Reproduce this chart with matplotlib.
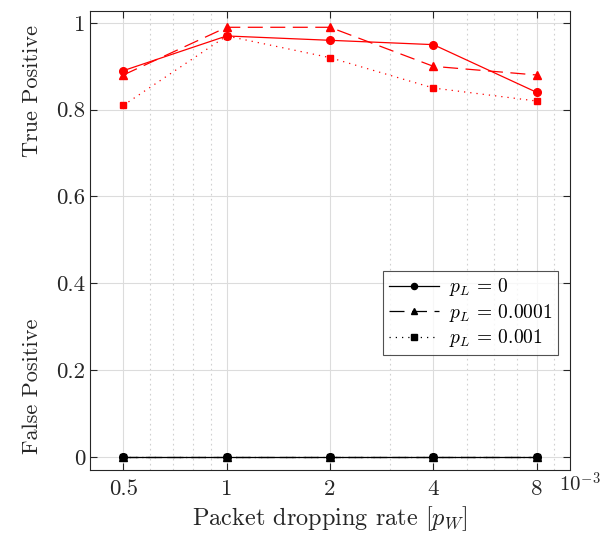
import numpy as np
import matplotlib.pyplot as plt
from matplotlib.ticker import FixedLocator, NullFormatter

plt.rcParams['font.family'] = 'cmr10'
plt.rcParams['mathtext.fontset'] = 'cm'
plt.rcParams['axes.formatter.use_mathtext'] = True

# データ (x は 10^-3 単位)
p_w = [0.5, 1, 2, 4, 8]
tp_0 = [0.89, 0.97, 0.96, 0.95, 0.84]
tp_1e4 = [0.88, 0.99, 0.99, 0.90, 0.88]
tp_1e3 = [0.81, 0.97, 0.92, 0.85, 0.82]
fp_0 = [0, 0, 0, 0, 0]
fp_1e4 = [0, 0, 0, 0, 0]
fp_1e3 = [0, 0, 0, 0, 0]
labels = [r'$p_L$ = 0', r'$p_L$ = 0.0001', r'$p_L$ = 0.001']

fig = plt.figure(figsize=(6, 5.4), dpi=100)
ax = fig.add_axes([0.15, 0.13, 0.80, 0.85])

red = '#ff0000'
dash = (0, (12, 6))
dot = (0, (1, 4))

# True positive (赤)
ax.plot(p_w, tp_0, color=red, ls='-', lw=0.9, marker='o', ms=5.5)
ax.plot(p_w, tp_1e4, color=red, ls=dash, lw=0.9, marker='^', ms=6)
ax.plot(p_w, tp_1e3, color=red, ls=dot, lw=0.9, marker='s', ms=5)

# False positive (黒)
h1, = ax.plot(p_w, fp_0, color='black', ls='-', lw=0.9, marker='o', ms=5.5)
h2, = ax.plot(p_w, fp_1e4, color='black', ls=dash, lw=0.9, marker='^', ms=5.5)
h3, = ax.plot(p_w, fp_1e3, color='black', ls=dot, lw=0.9, marker='s', ms=5)

ax.set_xscale('log')
ax.set_xlim(0.4, 10)
ax.set_ylim(-0.03, 1.028)

ax.xaxis.set_major_locator(FixedLocator(p_w))
ax.set_xticklabels(['0.5', '1', '2', '4', '8'])
ax.xaxis.set_minor_locator(FixedLocator([0.6, 0.7, 0.8, 0.9, 3, 5, 6, 7, 9]))
ax.xaxis.set_minor_formatter(NullFormatter())
ax.set_yticks([0, 0.2, 0.4, 0.6, 0.8, 1])
ax.set_yticklabels(['0', '0.2', '0.4', '0.6', '0.8', '1'])

ax.grid(True, which='major', color='#dcdcdc', lw=0.8)
ax.grid(True, which='minor', axis='x', color='#d0d0d0', lw=0.8, ls=(0, (1.5, 3)))
ax.set_axisbelow(True)

ax.tick_params(which='both', direction='in', top=True, right=True,
               labelsize=16.5, colors='#262626', length=5)
ax.tick_params(axis='x', pad=7)
ax.tick_params(which='minor', length=0)
for s in ax.spines.values():
    s.set_color('#262626')
    s.set_linewidth(0.8)

ax.set_xlabel(r'Packet dropping rate [$p_W$]', fontsize=17.5, color='#262626',
              labelpad=4)
ax.text(0.978, -0.004, r'$10^{-3}$', transform=ax.transAxes, fontsize=15,
        ha='left', va='top', color='#262626')

fig.text(0.053, 0.831, 'True Positive', rotation=90, fontsize=16,
         ha='center', va='center', color='#262626')
fig.text(0.053, 0.285, 'False Positive', rotation=90, fontsize=16,
         ha='center', va='center', color='#262626')

leg = ax.legend([h1, h2, h3], labels, loc='upper left',
                bbox_to_anchor=(0.61, 0.434), fontsize=14, frameon=True,
                fancybox=False, edgecolor='#262626', handlelength=2.6,
                borderpad=0.3, labelspacing=0.18, handletextpad=0.5,
                markerscale=0.8, borderaxespad=0)
leg.get_frame().set_linewidth(0.8)

fig.savefig('out.png', dpi=100)
